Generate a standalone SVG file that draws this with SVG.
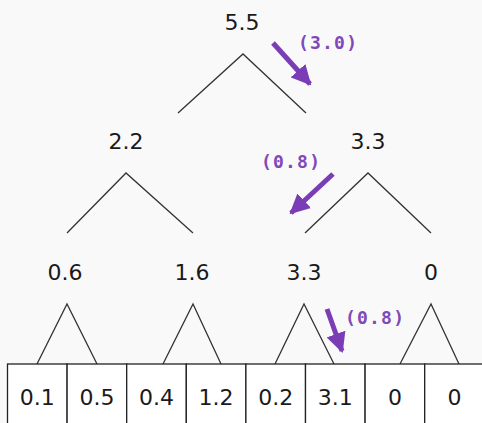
<svg xmlns="http://www.w3.org/2000/svg" width="482" height="423" viewBox="0 0 482 423">
<defs>
<style>
.bg{fill:#f9f9f9}
.edge{stroke:#333;stroke-width:1.3;fill:none}
.val{font-family:"DejaVu Sans",sans-serif;font-size:22px;fill:#1a1a1a;text-anchor:middle}
.cell{fill:#fff;stroke:#222;stroke-width:1.3}
.lab{font-family:"DejaVu Sans Mono",monospace;font-size:18px;font-weight:600;fill:#8048b8;letter-spacing:1.2px}
.arr{stroke:#7a3db5;stroke-width:5;fill:none}
</style>
<marker id="ah" viewBox="0 0 10 10" refX="9" refY="5" markerWidth="4" markerHeight="4" markerUnits="strokeWidth" orient="auto">
<path d="M0,0 L10,5 L0,10 Z" fill="#7a3db5"/>
</marker>
</defs>
<rect class="bg" x="0" y="0" width="482" height="423"/>
<g id="connectors">
<polyline class="edge" points="178,113 243,54 306,113"/>
<polyline class="edge" points="67,233 126,173 193,233"/>
<polyline class="edge" points="305,233 368,173 431,233"/>
<polyline class="edge" points="37,364 67,304 97,364"/>
<polyline class="edge" points="163,364 193,304 221,364"/>
<polyline class="edge" points="275,364 304,304 334,364"/>
<polyline class="edge" points="400,364 431,304 459,364"/>
</g>
<g id="n-root"><text class="val" x="242" y="30">5.5</text></g>
<g id="n-l"><text class="val" x="126" y="149">2.2</text></g>
<g id="n-r"><text class="val" x="368" y="149">3.3</text></g>
<g id="n-ll"><text class="val" x="65" y="280">0.6</text></g>
<g id="n-lr"><text class="val" x="192" y="280">1.6</text></g>
<g id="n-rl"><text class="val" x="304" y="280">3.3</text></g>
<g id="n-rr"><text class="val" x="431" y="280">0</text></g>
<g id="leaves">
<rect class="cell" x="7.5" y="364" width="59.6" height="70"/>
<rect class="cell" x="67.1" y="364" width="59.6" height="70"/>
<rect class="cell" x="126.7" y="364" width="59.6" height="70"/>
<rect class="cell" x="186.3" y="364" width="59.6" height="70"/>
<rect class="cell" x="245.9" y="364" width="59.6" height="70"/>
<rect class="cell" x="305.5" y="364" width="59.6" height="70"/>
<rect class="cell" x="365.1" y="364" width="59.6" height="70"/>
<rect class="cell" x="424.7" y="364" width="59.6" height="70"/>
<text class="val" x="37.3" y="405">0.1</text>
<text class="val" x="96.9" y="405">0.5</text>
<text class="val" x="156.5" y="405">0.4</text>
<text class="val" x="216.1" y="405">1.2</text>
<text class="val" x="275.7" y="405">0.2</text>
<text class="val" x="335.3" y="405">3.1</text>
<text class="val" x="394.9" y="405">0</text>
<text class="val" x="454.5" y="405">0</text>
</g>
<g id="annotations">
<line class="arr" x1="273" y1="43" x2="310" y2="84" marker-end="url(#ah)"/>
<text class="lab" x="298" y="49">(3.0)</text>
<line class="arr" x1="333" y1="174" x2="291" y2="213" marker-end="url(#ah)"/>
<text class="lab" x="261" y="168">(0.8)</text>
<line class="arr" x1="327" y1="309" x2="342" y2="351" marker-end="url(#ah)"/>
<text class="lab" x="345" y="324">(0.8)</text>
</g>
</svg>
